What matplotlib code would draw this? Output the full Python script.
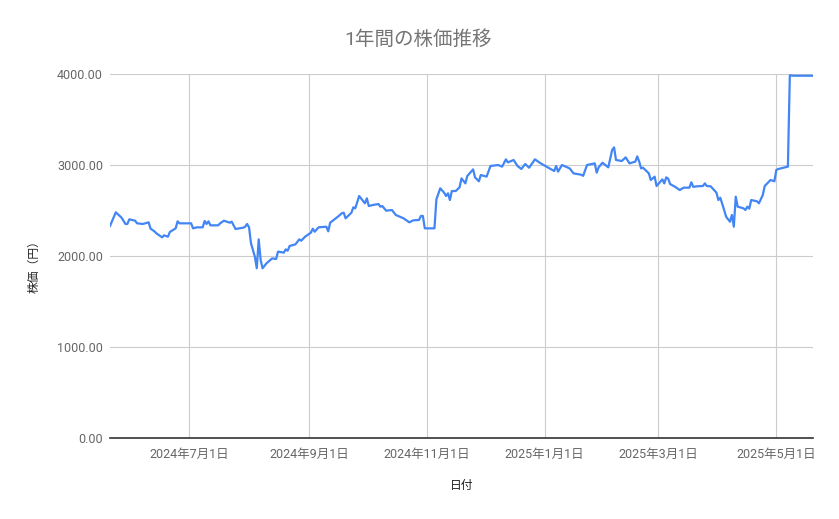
import pandas as pd
import matplotlib.pyplot as plt

plt.rcParams['font.family'] = ['Roboto', 'Noto Sans CJK JP', 'DejaVu Sans']

# data
dates = [
    "2024-05-21", "2024-05-24", "2024-05-27", "2024-05-29", "2024-05-30", "2024-05-31",
    "2024-06-03", "2024-06-04", "2024-06-07", "2024-06-10", "2024-06-11", "2024-06-13",
    "2024-06-14", "2024-06-17", "2024-06-18", "2024-06-20", "2024-06-21", "2024-06-24",
    "2024-06-25", "2024-06-26", "2024-06-28", "2024-07-01", "2024-07-02", "2024-07-03",
    "2024-07-05", "2024-07-08", "2024-07-09", "2024-07-10", "2024-07-11", "2024-07-12",
    "2024-07-16", "2024-07-17", "2024-07-19", "2024-07-22", "2024-07-23", "2024-07-25",
    "2024-07-29", "2024-07-30", "2024-07-31", "2024-08-01", "2024-08-02", "2024-08-04",
    "2024-08-05", "2024-08-06", "2024-08-07", "2024-08-08", "2024-08-10", "2024-08-13",
    "2024-08-15", "2024-08-16", "2024-08-19", "2024-08-20", "2024-08-21", "2024-08-22",
    "2024-08-25", "2024-08-27", "2024-08-28", "2024-08-30", "2024-09-02", "2024-09-03",
    "2024-09-04", "2024-09-06", "2024-09-10", "2024-09-11", "2024-09-12", "2024-09-16",
    "2024-09-18", "2024-09-19", "2024-09-20", "2024-09-23", "2024-09-24", "2024-09-25",
    "2024-09-27", "2024-09-30", "2024-10-01", "2024-10-02", "2024-10-04", "2024-10-07",
    "2024-10-08", "2024-10-09", "2024-10-11", "2024-10-14", "2024-10-16", "2024-10-20",
    "2024-10-23", "2024-10-25", "2024-10-28", "2024-10-29", "2024-10-30", "2024-10-31",
    "2024-11-05", "2024-11-06", "2024-11-08", "2024-11-10", "2024-11-11", "2024-11-12",
    "2024-11-13", "2024-11-14", "2024-11-16", "2024-11-18", "2024-11-19", "2024-11-21",
    "2024-11-22", "2024-11-25", "2024-11-26", "2024-11-28", "2024-11-29", "2024-12-02",
    "2024-12-04", "2024-12-08", "2024-12-10", "2024-12-12", "2024-12-13", "2024-12-16",
    "2024-12-18", "2024-12-20", "2024-12-22", "2024-12-24", "2024-12-27", "2024-12-30",
    "2025-01-03", "2025-01-06", "2025-01-07", "2025-01-08", "2025-01-10", "2025-01-14",
    "2025-01-16", "2025-01-20", "2025-01-21", "2025-01-23", "2025-01-27", "2025-01-28",
    "2025-01-29", "2025-01-31", "2025-02-03", "2025-02-05", "2025-02-06", "2025-02-07",
    "2025-02-10", "2025-02-12", "2025-02-14", "2025-02-17", "2025-02-18", "2025-02-19",
    "2025-02-20", "2025-02-21", "2025-02-24", "2025-02-25", "2025-02-27", "2025-02-28",
    "2025-03-03", "2025-03-04", "2025-03-05", "2025-03-06", "2025-03-07", "2025-03-10",
    "2025-03-12", "2025-03-14", "2025-03-17", "2025-03-18", "2025-03-19", "2025-03-21",
    "2025-03-24", "2025-03-25", "2025-03-26", "2025-03-28", "2025-03-31", "2025-04-01",
    "2025-04-02", "2025-04-04", "2025-04-05", "2025-04-07", "2025-04-08", "2025-04-09",
    "2025-04-10", "2025-04-11", "2025-04-14", "2025-04-15", "2025-04-16", "2025-04-17",
    "2025-04-18", "2025-04-21", "2025-04-22", "2025-04-24", "2025-04-25", "2025-04-28",
    "2025-04-30", "2025-05-01", "2025-05-02", "2025-05-07", "2025-05-08", "2025-05-10",
    "2025-05-20",
]
prices = [
    2330, 2480, 2421, 2352, 2352, 2403,
    2388, 2359, 2352, 2370, 2300, 2271,
    2249, 2205, 2227, 2212, 2264, 2304,
    2381, 2359, 2359, 2359, 2359, 2304,
    2315, 2315, 2385, 2352, 2381, 2337,
    2337, 2359, 2388, 2366, 2377, 2297,
    2311, 2322, 2352, 2315, 2139, 1993,
    1865, 2183, 1956, 1865, 1919, 1974,
    1967, 2048, 2037, 2073, 2058, 2110,
    2128, 2183, 2168, 2212, 2256, 2300,
    2267, 2315, 2322, 2271, 2366, 2432,
    2469, 2476, 2414, 2476, 2535, 2524,
    2659, 2579, 2634, 2549, 2560, 2571,
    2542, 2549, 2498, 2505, 2451, 2414,
    2370, 2392, 2396, 2440, 2440, 2304,
    2304, 2623, 2744, 2696, 2659, 2689,
    2615, 2714, 2714, 2755, 2853, 2798,
    2879, 2952, 2864, 2821, 2890, 2872,
    2989, 3000, 2982, 3062, 3029, 3055,
    2989, 2956, 3011, 2970, 3062, 3018,
    2970, 2934, 2989, 2927, 3000, 2963,
    2908, 2893, 2881, 3000, 3018, 2916,
    2974, 3025, 2974, 3165, 3194, 3055,
    3044, 3084, 3018, 3037, 3095, 3037,
    2963, 2970, 2908, 2835, 2872, 2769,
    2842, 2798, 2864, 2850, 2791, 2755,
    2725, 2751, 2751, 2810, 2760, 2766,
    2769, 2798, 2769, 2766, 2696, 2615,
    2640, 2505, 2432, 2377, 2451, 2322,
    2652, 2542, 2524, 2505, 2542, 2520,
    2615, 2601, 2579, 2670, 2769, 2835,
    2821, 2945, 2956, 2982, 3985, 3981,
    3981,
]

tick_dates = ["2024-07-01", "2024-09-01", "2024-11-01", "2025-01-01", "2025-03-01", "2025-05-01"]
tick_labels = ["2024年7月1日", "2024年9月1日", "2024年11月1日", "2025年1月1日", "2025年3月1日", "2025年5月1日"]
y_ticks = [0, 1000, 2000, 3000, 4000]

x = pd.to_datetime(dates)

fig = plt.figure(figsize=(8.39, 5.19), dpi=100)
ax = fig.add_axes([110 / 839, 1 - 438 / 519, (813 - 110) / 839, (438 - 74) / 519])

ax.plot(x, prices, color="#4285f4", linewidth=1.6, zorder=3)

ax.set_xlim(x[0], x[-1])
ax.set_ylim(0, 4000)
ax.set_yticks(y_ticks)
ax.set_yticklabels([f"{v:.2f}" for v in y_ticks])
ax.set_xticks(pd.to_datetime(tick_dates))
ax.set_xticklabels(tick_labels)

ax.grid(True, color="#cccccc", linewidth=0.8)
ax.set_axisbelow(True)
for side in ["top", "right", "left"]:
    ax.spines[side].set_visible(False)
ax.spines["bottom"].set_color("#333333")
ax.spines["bottom"].set_linewidth(1.2)
ax.spines["bottom"].set_zorder(4)

ax.tick_params(axis="both", length=0, labelsize=9, labelcolor="#666666")
ax.tick_params(axis="x", pad=7)
ax.tick_params(axis="y", pad=5)

fig.text(418 / 839, 1 - 40 / 519, "1年間の株価推移", ha="center", va="center",
         fontsize=14, color="#757575")
fig.text(462 / 839, 1 - 486 / 519, "日付", ha="center", va="center",
         fontsize=8.5, color="#222222")
fig.text(34 / 839, 1 - 264 / 519, "株価（円）", ha="center", va="center",
         rotation=90, fontsize=8.5, color="#222222")

fig.savefig("out.png", dpi=100)
